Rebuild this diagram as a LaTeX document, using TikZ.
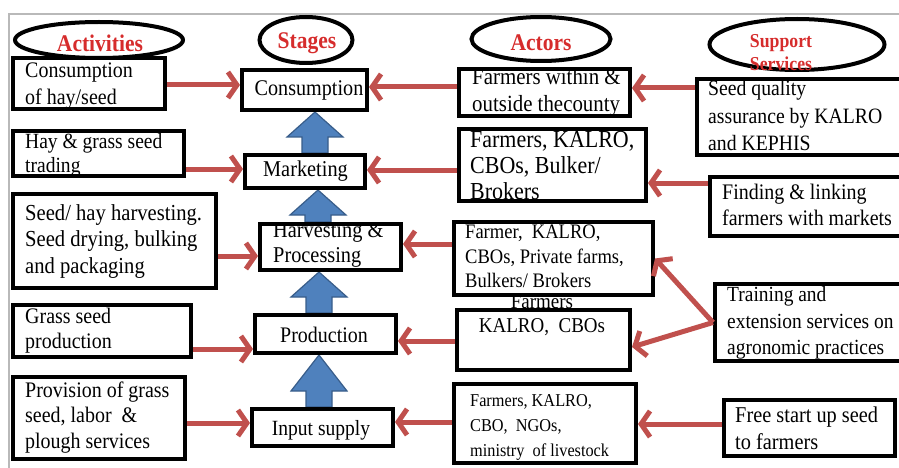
\documentclass[tikz,border=0pt]{standalone}
\usepackage{fontspec}
\setmainfont{Liberation Serif}[FakeStretch=0.9]
\usetikzlibrary{arrows.meta,calc,shapes.geometric,backgrounds}
\definecolor{arrowred}{RGB}{192,80,77}
\definecolor{titlered}{RGB}{214,44,44}
\definecolor{blockblue}{RGB}{79,129,189}
\definecolor{blockedge}{RGB}{56,93,138}
\newcommand{\fsz}[2]{\fontsize{#1}{#2}\selectfont}
% upward block arrow between two stage boxes: #1 lower, #2 upper, #3 axis x, #4 head length
\newcommand{\flowup}[4]{%
  \filldraw[blockflow]
    (#3-13,0 |- #1.north)
    -- ($(#3-13,0 |- #2.south)+(0,#4)$)
    -- ($(#3-28,0 |- #2.south)+(0,#4)$)
    -- (#3,0 |- #2.south)
    -- ($(#3+28,0 |- #2.south)+(0,#4)$)
    -- ($(#3+13,0 |- #2.south)+(0,#4)$)
    -- (#3+13,0 |- #1.north) -- cycle;}
\begin{document}
\begin{tikzpicture}[x=1pt,y=-1pt,
  cellbox/.style={draw=black,line width=4pt,fill=white,inner sep=0pt},
  oval/.style={draw=black,line width=4pt,ellipse,inner sep=0pt},
  txt/.style={inner sep=0pt,align=left,anchor=west},
  ctxt/.style={inner sep=0pt,align=center},
  headtxt/.style={ctxt,text=titlered,font=\bfseries\fsz{23.9}{26}},
  feedarrow/.style={draw=arrowred,line width=5pt,-{Straight Barb[length=9pt,width=26pt]}},
  blockflow/.style={fill=blockblue,draw=blockedge,line width=1.2pt,line join=miter}]
\useasboundingbox (0,0) rectangle (899,468);
\clip (0,0) rectangle (899,468);

% frame
\draw[gray!55,line width=1.5pt] (9,468) -- (9,14) -- (899,14);

% activities
\node[cellbox,minimum width=152pt,minimum height=51pt] (a1) at (89,83.5) {};
\node[cellbox,minimum width=171pt,minimum height=45pt] (a2) at (98.5,153.5) {};
\node[cellbox,minimum width=203pt,minimum height=94pt] (a3) at (114.5,241) {};
\node[cellbox,minimum width=178pt,minimum height=52pt] (a4) at (102,331) {};
\node[cellbox,minimum width=172pt,minimum height=82pt] (a5) at (99,418) {};
\node[txt,font=\fsz{22.2}{27}] (a1t) at (25,86.5) {Consumption\\of hay/seed};
\node[txt,font=\fsz{21.7}{24}] (a2t) at (25,155) {Hay \& grass seed\\trading};
\node[txt,font=\fsz{22.9}{26.5}] (a3t) at (25,241.5) {Seed/ hay harvesting.\\Seed drying, bulking\\and packaging};
\node[txt,font=\fsz{22.2}{25}] (a4t) at (25,330.5) {Grass seed\\production};
\node[txt,font=\fsz{22.2}{25.5}] (a5t) at (25,417.5) {Provision of grass\\seed, labor~ \&\\plough services};

% stages
\node[cellbox,minimum width=125pt,minimum height=40pt] (s1) at (304.5,90) {};
\node[cellbox,minimum width=120pt,minimum height=33pt] (s2) at (305,171.5) {};
\node[cellbox,minimum width=141pt,minimum height=46pt] (s3) at (330.5,247) {};
\node[cellbox,minimum width=141pt,minimum height=38pt] (s4) at (325.5,334) {};
\node[cellbox,minimum width=141pt,minimum height=37pt] (s5) at (322.5,427.5) {};
\node[ctxt,font=\fsz{22.4}{25}] (s1t) at (309,90) {Consumption};
\node[ctxt,font=\fsz{22.6}{25}] (s2t) at (305.5,171) {Marketing};
\node[txt,font=\fsz{22.6}{25}] (s3t) at (273,245) {Harvesting \&\\Processing};
\node[ctxt,font=\fsz{22.2}{25}] (s4t) at (324,335) {Production};
\node[ctxt,font=\fsz{21.7}{25}] (s5t) at (321,430) {Input supply};

% actors
\node[cellbox,minimum width=171pt,minimum height=47pt] (c1) at (544.5,92.5) {};
\node[cellbox,minimum width=187pt,minimum height=72pt] (c2) at (552.5,165) {};
\node[cellbox,minimum width=199pt,minimum height=73pt] (c3) at (553.5,258.5) {};
\node[cellbox,minimum width=173pt,minimum height=60pt] (c4) at (543.5,340) {};
\node[cellbox,minimum width=182pt,minimum height=79pt] (c5) at (545,423.5) {};
\node[txt,font=\fsz{23.2}{26.5}] (c1t) at (472,92.5) {Farmers within \&\\outside thecounty};
\node[txt,font=\fsz{24.4}{26}] (c2t) at (470,166) {Farmers, KALRO,\\CBOs, Bulker/\\Brokers};
\node[txt,font=\fsz{20.6}{24.5}] (c3t) at (465,256.5) {Farmer,~ KALRO,\\CBOs, Private farms,\\Bulkers/ Brokers};
\node[ctxt,font=\fsz{21.1}{24}] (c4t) at (542,315) {Farmers\\KALRO,~ CBOs};
\node[txt,font=\fsz{18.1}{25}] (c5t) at (470,427) {Farmers, KALRO,\\CBO,~ NGOs,\\ministry~ of livestock};

% support services
\node[cellbox,minimum width=216pt,minimum height=76pt] (d1) at (805,117) {};
\node[cellbox,minimum width=203pt,minimum height=59pt] (d2) at (811.5,206.5) {};
\node[cellbox,minimum width=198pt,minimum height=77pt] (d3) at (814,322.5) {};
\node[cellbox,minimum width=171pt,minimum height=56pt] (d4) at (809.5,428) {};
\node[txt,font=\fsz{21.9}{27.5}] (d1t) at (708,116) {Seed quality\\assurance by KALRO\\and KEPHIS};
\node[txt,font=\fsz{22.2}{26}] (d2t) at (722,205) {Finding \& linking\\farmers with markets};
\node[txt,font=\fsz{21.6}{26.5}] (d3t) at (727,323) {Training and\\extension services on\\agronomic practices};
\node[txt,font=\fsz{22.6}{27}] (d4t) at (735,428.5) {Free start up seed\\to farmers};

% flow between stages
\begin{scope}[on background layer]
  \flowup{s2}{s1}{315}{25}
  \flowup{s3}{s2}{318}{25}
  \flowup{s4}{s3}{319}{25}
  \flowup{s5}{s4}{319}{36}
\end{scope}

% activities to stages
\draw[feedarrow] (a1.east |- 0,85)  -- (s1.west |- 0,85);
\draw[feedarrow] (a2.east |- 0,169) -- (s2.west |- 0,169);
\draw[feedarrow] (a3.east |- 0,256) -- (s3.west |- 0,256);
\draw[feedarrow] (a4.east |- 0,349) -- (s4.west |- 0,349);
\draw[feedarrow] (a5.east |- 0,423) -- (s5.west |- 0,423);
% actors to stages
\draw[feedarrow] (c1.west |- 0,87)  -- (s1.east |- 0,87);
\draw[feedarrow] (c2.west |- 0,170) -- (s2.east |- 0,170);
\draw[feedarrow] (c3.west |- 0,244) -- (s3.east |- 0,244);
\draw[feedarrow] (c4.west |- 0,341) -- (s4.east |- 0,341);
\draw[feedarrow] (c5.west |- 0,422) -- (s5.east |- 0,422);
% support services to actors
\draw[feedarrow] (d1.west |- 0,88)  -- (c1.east |- 0,88);
\draw[feedarrow] (d2.west |- 0,183) -- (c2.east |- 0,183);
\draw[feedarrow] (d3.west) -- (c3.east);
\draw[feedarrow] (d3.west) -- (c4.east |- 0,347);
\draw[feedarrow] (d4.west |- 0,424) -- (c5.east |- 0,424);

% column headings
\node[oval,minimum width=168pt,minimum height=36pt] (e1) at (99,40) {};
\node[oval,minimum width=93pt,minimum height=46pt] (e2) at (306,40) {};
\node[oval,minimum width=139pt,minimum height=44pt] (e3) at (541,39) {};
\node[oval,minimum width=175pt,minimum height=51pt] (e4) at (797,44.5) {};
\node[headtxt] (e1t) at (100,43) {Activities};
\node[headtxt] (e2t) at (307,43) {Stages};
\node[headtxt] (e3t) at (541,43) {Actors};
\node[headtxt,font=\bfseries\fsz{19.7}{23}] (e4t) at (781,53) {Support\\Services};
\end{tikzpicture}
\end{document}
